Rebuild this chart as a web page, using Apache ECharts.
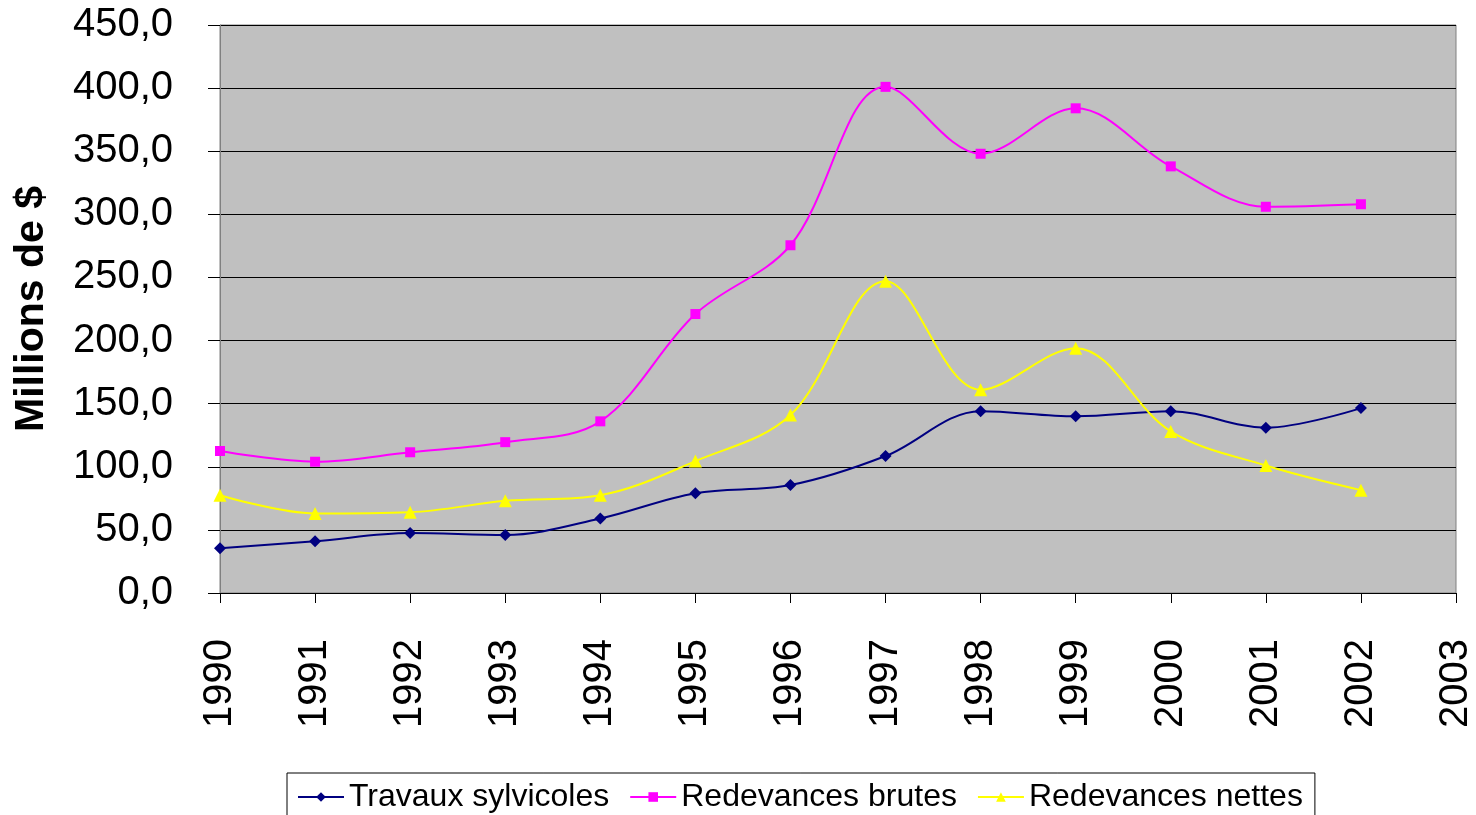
<!DOCTYPE html>
<html><head><meta charset="utf-8">
<script src="https://cdn.jsdelivr.net/npm/echarts@6/dist/echarts.min.js"></script>
<style>html,body{margin:0;padding:0;background:#fff}#c{width:1476px;height:815px}</style>
</head><body><div id="c"></div>
<script>
const years = ['1990','1991','1992','1993','1994','1995','1996','1997','1998','1999','2000','2001','2002','2003'];
const travaux = [35.5, 41, 47.5, 46, 59, 79, 85.5, 108.5, 144, 140, 144, 131, 146.5];
const brutes = [112.5, 104, 111.5, 119.5, 136, 221, 275.5, 401, 348, 384, 338, 306, 308];
const nettes = [77.5, 63, 64, 73, 77.5, 104.5, 141, 247, 161, 194, 128, 101, 81.5];

const chart = echarts.init(document.getElementById('c'));
const font = 'Arial, "Liberation Sans", sans-serif';
chart.setOption({
  animation: false,
  backgroundColor: '#fff',
  grid: {left: 220, right: 20, top: 25, bottom: 222, outerBoundsMode: 'none', containLabel: false,
    show: true, backgroundColor: '#c0c0c0', borderColor: '#808080', borderWidth: 1},
  legend: {
    bottom: -16, left: 287, itemWidth: 46, itemHeight: 12, itemGap: 20,
    borderColor: '#000', borderWidth: 1, padding: [8, 12, 18, 10],
    textStyle: {fontSize: 32, fontFamily: font, color: '#000'},
    data: ['Travaux sylvicoles', 'Redevances brutes', 'Redevances nettes']
  },
  xAxis: {
    type: 'category', data: years, boundaryGap: false,
    axisLine: {lineStyle: {color: '#000', width: 1}},
    axisTick: {show: true, length: 10, lineStyle: {color: '#000'}},
    axisLabel: {rotate: 90, fontSize: 40, fontFamily: font, color: '#000', margin: 46},
    splitLine: {show: false}
  },
  yAxis: {
    type: 'value', min: 0, max: 450, interval: 50,
    name: 'Millions de $', nameLocation: 'middle', nameGap: 168,
    nameTextStyle: {fontSize: 41, fontWeight: 'bold', fontFamily: font, color: '#000'},
    axisLine: {show: true, lineStyle: {color: '#808080'}},
    axisTick: {show: true, length: 12, lineStyle: {color: '#000'}},
    axisLabel: {fontSize: 40, fontFamily: font, color: '#000', margin: 47,
      formatter: v => v.toFixed(1).replace('.', ',')},
    splitLine: {lineStyle: {color: '#000', width: 1}}
  },
  series: [
    {name: 'Travaux sylvicoles', type: 'line', data: travaux, smooth: 0.35, symbol: 'diamond', symbolSize: 12,
      itemStyle: {color: '#000080'}, lineStyle: {color: '#000080', width: 2}},
    {name: 'Redevances brutes', type: 'line', data: brutes, smooth: 0.35, symbol: 'rect', symbolSize: 10,
      itemStyle: {color: '#ff00ff'}, lineStyle: {color: '#ff00ff', width: 2}},
    {name: 'Redevances nettes', type: 'line', data: nettes, smooth: 0.35, symbol: 'triangle', symbolSize: 13,
      itemStyle: {color: '#ffff00'}, lineStyle: {color: '#ffff00', width: 2}}
  ]
});
</script></body></html>
